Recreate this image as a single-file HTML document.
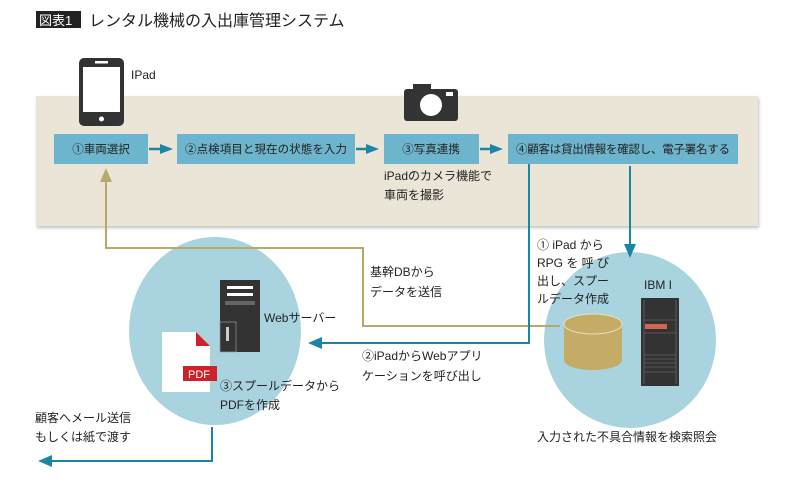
<!DOCTYPE html>
<html><head><meta charset="utf-8"><style>
body{margin:0;background:#fff;}
svg{display:block;}
text{font-family:"Liberation Sans","Noto Sans CJK JP",sans-serif;fill:#222;}
</style></head><body>
<svg width="796" height="483" viewBox="0 0 796 483" xmlns="http://www.w3.org/2000/svg">
<defs>
<filter id="sh" x="-5%" y="-10%" width="110%" height="130%"><feDropShadow dx="1" dy="2" stdDeviation="1.5" flood-color="#999" flood-opacity="0.6"/></filter>
</defs>
<rect x="36" y="11" width="45" height="17" fill="#222"/>
<text x="39" y="25" font-size="13" style="fill:#fff">図表1</text>
<text x="89" y="26" font-size="16">レンタル機械の入出庫管理システム</text>

<rect x="36" y="96" width="722" height="130" fill="#ebe5d7" filter="url(#sh)"/>

<rect x="79" y="58" width="45" height="68" rx="5" fill="#333"/>
<rect x="83" y="67" width="37" height="45" fill="#fff"/>
<rect x="95" y="61" width="13" height="2.5" fill="#fff"/>
<circle cx="101.5" cy="119" r="2.5" fill="#fff"/>
<text x="131" y="79" font-size="12">IPad</text>

<rect x="404" y="89" width="54" height="32" rx="3" fill="#333"/>
<rect x="413" y="84" width="18" height="7" fill="#333"/>
<circle cx="431" cy="105" r="11" fill="#fff"/>
<rect x="446" y="92" width="7" height="4" fill="#fff"/>

<g font-size="11.5">
<rect x="54" y="134" width="94" height="30" fill="#6cb5cd"/>
<text x="101" y="153" text-anchor="middle">①車両選択</text>
<rect x="177" y="134" width="178" height="30" fill="#6cb5cd"/>
<text x="266" y="153" text-anchor="middle" textLength="162">②点検項目と現在の状態を入力</text>
<rect x="384" y="134" width="95" height="30" fill="#6cb5cd"/>
<text x="431" y="153" text-anchor="middle">③写真連携</text>
<rect x="508" y="134" width="230" height="30" fill="#6cb5cd"/>
<text x="623" y="153" text-anchor="middle" textLength="214">④顧客は貸出情報を確認し、電子署名する</text>
</g>
<g stroke="#1a86a6" stroke-width="2.5" fill="#1a86a6">
<line x1="149" y1="149" x2="162" y2="149"/><polygon points="160,144 173,149 160,154" stroke="none"/>
<line x1="356" y1="149" x2="368" y2="149"/><polygon points="366,144 379,149 366,154" stroke="none"/>
<line x1="480" y1="149" x2="492" y2="149"/><polygon points="490,144 503,149 490,154" stroke="none"/>
</g>
<text x="384" y="180" font-size="12">iPadのカメラ機能で</text>
<text x="384" y="199" font-size="12">車両を撮影</text>

<ellipse cx="215" cy="331" rx="86" ry="94" fill="#a8d3df"/>
<ellipse cx="630" cy="340" rx="86" ry="88" fill="#a8d3df"/>

<polyline points="106,178 106,248 363,248 363,326 560,326" fill="none" stroke="#b8a96a" stroke-width="2"/>
<polygon points="100,182 106,168 112,182" fill="#b8a96a"/>

<polyline points="529,164 529,343 318,343" fill="none" stroke="#1a86a6" stroke-width="2"/>
<polygon points="322,337 308,343 322,349" fill="#1a86a6"/>
<line x1="630" y1="166" x2="630" y2="246" stroke="#1a86a6" stroke-width="2"/>
<polygon points="624,244 630,258 636,244" fill="#1a86a6"/>
<polyline points="212,427 212,461 48,461" fill="none" stroke="#1a86a6" stroke-width="2"/>
<polygon points="52,455 38,461 52,467" fill="#1a86a6"/>

<rect x="220" y="280" width="40" height="72" fill="#333"/>
<rect x="227" y="286" width="26" height="3" fill="#fff"/>
<rect x="227" y="293" width="26" height="3" fill="#fff"/>
<rect x="225" y="301" width="30" height="4" fill="#666"/>
<rect x="220" y="322" width="16" height="30" fill="none" stroke="#999" stroke-width="0.7"/>
<rect x="226" y="327" width="3" height="14" fill="#ccc"/>
<text x="264" y="322" font-size="12">Webサーバー</text>

<polygon points="162,332 196,332 210,346 210,392 162,392" fill="#fff"/>
<polygon points="196,332 210,346 196,346" fill="#cc2229"/>
<rect x="183" y="366" width="34" height="15" fill="#cc2229"/>
<text x="188" y="378" font-size="11" style="fill:#fff">PDF</text>
<text x="220" y="390" font-size="12">③スプールデータから</text>
<text x="220" y="409" font-size="12">PDFを作成</text>

<text x="644" y="289" font-size="12">IBM I</text>
<rect x="641" y="298" width="38" height="88" fill="#333"/>
<g stroke="#777" stroke-width="0.6">
<line x1="644" y1="300" x2="644" y2="384"/><line x1="676" y1="300" x2="676" y2="384"/>
<line x1="644" y1="320" x2="676" y2="320"/><line x1="644" y1="333" x2="676" y2="333"/>
<line x1="644" y1="355" x2="676" y2="355"/><line x1="644" y1="359" x2="676" y2="359"/>
<line x1="644" y1="363" x2="676" y2="363"/><line x1="644" y1="367" x2="676" y2="367"/>
<line x1="644" y1="372" x2="676" y2="372"/>
</g>
<rect x="645" y="324" width="22" height="5" fill="#d0674a"/>
<path d="M564,324 L564,360 A29,10 0 0 0 622,360 L622,324 Z" fill="#c4ac66"/>
<ellipse cx="593" cy="324" rx="29" ry="10" fill="#c4ac66" stroke="#e8e0c8" stroke-width="1"/>

<g font-size="12">
<text x="537" y="249">① iPad から</text>
<text x="537" y="267">RPG を 呼 び</text>
<text x="537" y="285">出し、スプー</text>
<text x="537" y="303">ルデータ作成</text>
<text x="370" y="276">基幹DBから</text>
<text x="370" y="296">データを送信</text>
<text x="362" y="360">②iPadからWebアプリ</text>
<text x="362" y="380">ケーションを呼び出し</text>
<text x="35" y="422">顧客へメール送信</text>
<text x="35" y="441">もしくは紙で渡す</text>
<text x="537" y="441">入力された不具合情報を検索照会</text>
</g>
</svg>
</body></html>
